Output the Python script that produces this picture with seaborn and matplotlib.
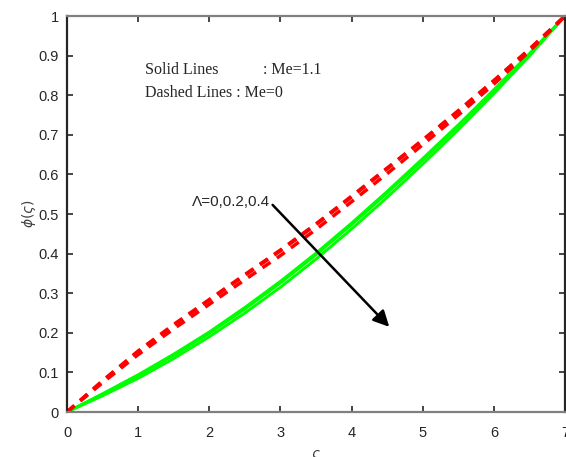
import numpy as np
import pandas as pd
import matplotlib
matplotlib.use("Agg")
import matplotlib.pyplot as plt
import seaborn as sns

# ---- data ----
zeta = [0, 0.5, 1, 1.5, 2, 2.5, 3, 3.5, 4, 4.5, 5, 5.5, 6, 6.5, 7]
lambdas = [0, 0.2, 0.4]

# Solid lines: Me = 1.1
solid_L0  = [0, 0.046, 0.094, 0.146, 0.202, 0.264, 0.330, 0.401, 0.477, 0.557, 0.640, 0.725, 0.814, 0.905, 1.0]
solid_L02 = [0, 0.045, 0.092, 0.143, 0.199, 0.260, 0.326, 0.397, 0.473, 0.553, 0.636, 0.722, 0.811, 0.903, 1.0]
solid_L04 = [0, 0.041, 0.085, 0.135, 0.190, 0.250, 0.315, 0.386, 0.462, 0.542, 0.626, 0.713, 0.804, 0.899, 1.0]

# Dashed lines: Me = 0
dashed_L0  = [0, 0.079, 0.154, 0.221, 0.284, 0.347, 0.409, 0.475, 0.545, 0.616, 0.687, 0.761, 0.837, 0.916, 1.0]
dashed_L02 = [0, 0.078, 0.152, 0.219, 0.282, 0.345, 0.407, 0.473, 0.543, 0.614, 0.686, 0.759, 0.836, 0.916, 1.0]
dashed_L04 = [0, 0.074, 0.145, 0.210, 0.272, 0.334, 0.395, 0.461, 0.531, 0.602, 0.675, 0.750, 0.828, 0.911, 1.0]

xticks = [0, 1, 2, 3, 4, 5, 6, 7]
yticks = [0, 0.1, 0.2, 0.3, 0.4, 0.5, 0.6, 0.7, 0.8, 0.9, 1]
ytick_labels = ["0", "0.1", "0.2", "0.3", "0.4", "0.5", "0.6", "0.7", "0.8", "0.9", "1"]

rows = []
for lam, ys in zip(lambdas, [solid_L0, solid_L02, solid_L04]):
    for xv, yv in zip(zeta, ys):
        rows.append(dict(zeta=xv, phi=yv, lam=lam, Me=1.1))
for lam, ys in zip(lambdas, [dashed_L0, dashed_L02, dashed_L04]):
    for xv, yv in zip(zeta, ys):
        rows.append(dict(zeta=xv, phi=yv, lam=lam, Me=0.0))
df = pd.DataFrame(rows)

sns.set_style("ticks")
plt.rcParams["font.family"] = ["Liberation Sans", "DejaVu Sans"]

fig = plt.figure(figsize=(5.66, 4.57), dpi=100)
ax = fig.add_axes([67/566, 45/457, 498/566, 396/457])

for lam in lambdas:
    sub = df[(df.Me == 1.1) & (df.lam == lam)]
    sns.lineplot(data=sub, x="zeta", y="phi", ax=ax, color="#00ff00",
                 linewidth=2.1, estimator=None, sort=False, legend=False)
for lam in lambdas:
    sub = df[(df.Me == 0.0) & (df.lam == lam)]
    sns.lineplot(data=sub, x="zeta", y="phi", ax=ax, color="#ff0000",
                 linewidth=2.5, linestyle=(0, (2.8, 2.2)), estimator=None,
                 sort=False, legend=False)

ax.set_xlim(0, 7)
ax.set_ylim(0, 1)
ax.set_xticks(xticks)
ax.set_yticks(yticks)
ax.set_yticklabels(ytick_labels)
ax.tick_params(direction="in", length=4, width=1.2, colors="#262626",
               labelsize=10.5, top=True, right=True, pad=6)
ax.tick_params(axis="x", pad=10)
for s in ["top", "bottom"]:
    ax.spines[s].set_color("#808080")
    ax.spines[s].set_linewidth(1.6)
for s in ["left", "right"]:
    ax.spines[s].set_color("#262626")
    ax.spines[s].set_linewidth(1.6)

ax.set_xlabel(r"$\varsigma$", fontsize=10, color="#404040", labelpad=6)
ax.set_ylabel(r"$\phi(\varsigma)$", fontsize=10, color="#404040", labelpad=0)

serif = ["Liberation Serif", "DejaVu Serif"]
ax.text(1.094, 0.864, "Solid Lines", fontsize=11.5, family=serif, va="center", ha="left")
ax.text(2.75, 0.864, ": Me=1.1", fontsize=11.5, family=serif, va="center", ha="left")
ax.text(1.094, 0.806, "Dashed Lines : Me=0", fontsize=11.5, family=serif, va="center", ha="left")

ax.text(1.75, 0.530, "\u039b=0,0.2,0.4", fontsize=11, va="center", ha="left")
ax.annotate("", xy=(4.53, 0.215), xytext=(2.89, 0.523),
            arrowprops=dict(arrowstyle="-|>", color="black", lw=1.8,
                            mutation_scale=24, shrinkA=0, shrinkB=0))

fig.savefig("out.png", dpi=100)
